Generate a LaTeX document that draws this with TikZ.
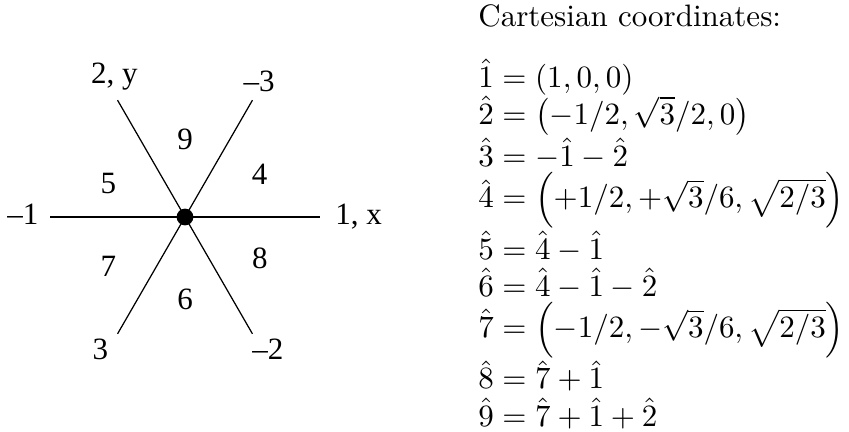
\documentclass[tikz,border=0pt]{standalone}
\usepackage{amsmath}
\usepackage{fontspec}
\newfontfamily\timesfont{Liberation Serif}

\begin{document}
\begin{tikzpicture}[font=\normalsize,
    dir/.style={font=\timesfont\fontsize{10}{12}\selectfont, inner sep=0pt, anchor=base},
    ray/.style={line width=0.4pt},
    hub/.style={circle, fill=black, inner sep=0pt, minimum size=0.19cm}]
\useasboundingbox (-2.098,-2.438) rectangle (7.530,2.461);
\coordinate (O) at (0,0);
\foreach \ang/\tag in {0/e,60/ne,120/nw,180/w,240/sw,300/se}
  \coordinate (ray\tag) at (\ang:1.53);
\draw[ray] (rayw) -- (raye);
\draw[ray] (raysw) -- (rayne);
\draw[ray] (raynw) -- (rayse);
\node[hub] (hub) at (O) {};
% end labels of the six directions
\node[dir] (d2) at (-0.80,1.51) {2, y};
\node[dir] (dm3) at (0.84,1.42) {–3};
\node[dir] (dm1) at (-1.84,-0.08) {–1};
\node[dir] (d1) at (1.97,-0.08) {1, x};
\node[dir] (d3) at (-0.96,-1.62) {3};
\node[dir] (dm2) at (0.94,-1.62) {–2};
% sector labels
\node[dir] (d9) at (0,0.76) {9};
\node[dir] (d4) at (0.845,0.37) {4};
\node[dir] (d5) at (-0.87,0.27) {5};
\node[dir] (d8) at (0.85,-0.58) {8};
\node[dir] (d7) at (-0.87,-0.68) {7};
\node[dir] (d6) at (0,-1.05) {6};
% basis vectors
\node[anchor=base west, inner sep=0pt] (title) at (3.32,2.155) {Cartesian coordinates:};
\node[anchor=north west, inner sep=0pt, align=left] (basis) at (3.32,1.80)
  {$\hat 1 = (1,0,0)$\\
   $\hat 2 = \left(-1/2,\sqrt{3}/2,0\right)$\\
   $\hat 3 = -\hat 1-\hat 2$\\
   $\hat 4 = \left(+1/2,+\sqrt{3}/6,\sqrt{2/3}\right)$\\
   $\hat 5 = \hat 4-\hat 1$\\
   $\hat 6 = \hat 4-\hat 1-\hat 2$\\
   $\hat 7 = \left(-1/2,-\sqrt{3}/6,\sqrt{2/3}\right)$\\
   $\hat 8 = \hat 7+\hat 1$\\
   $\hat 9 = \hat 7+\hat 1+\hat 2$};
\end{tikzpicture}
\end{document}
